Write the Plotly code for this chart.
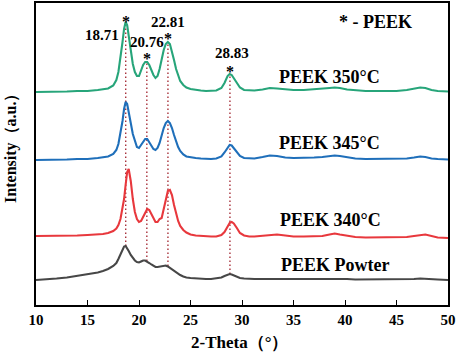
import plotly.graph_objects as go

# 2-theta grid (degrees)
two_theta = [10, 11, 12, 13, 14, 15, 16, 16.5, 17, 17.5,
             17.8, 18.0, 18.2, 18.4, 18.55, 18.7, 18.85, 19.0, 19.2, 19.4,
             19.6, 19.8, 20.0, 20.2, 20.4, 20.6, 20.8, 21.0, 21.2, 21.4,
             21.6, 21.8, 22.0, 22.2, 22.4, 22.6, 22.8, 23.0, 23.2, 23.4,
             23.6, 23.8, 24.0, 24.3, 24.6, 25, 25.5, 26, 26.5, 27,
             27.5, 28, 28.3, 28.6, 28.8, 29.0, 29.2, 29.5, 29.8, 30.2,
             30.7, 31.2, 32, 32.7, 33.4, 34.2, 35, 36, 37, 37.8,
             38.5, 39, 39.5, 40.2, 41, 42, 43, 44, 45, 46,
             46.7, 47.3, 47.8, 48.4, 49, 50]

# Intensities (a.u., stacked with offsets as drawn)
peek_350 = [213, 213, 213.5, 213.5, 214, 214, 215, 215.5, 216.5, 219.5,
            225, 233, 246, 263, 276, 283, 280, 270, 254, 241,
            233, 229, 229, 235, 240, 243, 243, 240, 235, 230,
            227, 229, 236, 246, 255, 261, 263, 261, 254, 245,
            236, 229, 224, 220, 217.5, 216, 215, 214.5, 214, 214,
            214.5, 217, 222, 229, 231, 230, 227, 222, 217.5, 215,
            214.5, 214.5, 215.5, 217, 216.5, 215.5, 215, 215, 215.5, 216,
            217, 217.5, 217, 215.5, 214.5, 214, 214, 214, 214, 215,
            216.5, 217.5, 217, 215, 214, 213.5]

peek_345 = [145, 145, 145.5, 145.5, 146, 146, 147, 147.5, 148.5, 151,
            155, 161, 171, 184, 196, 203, 201, 194, 182, 171,
            163, 158, 157, 160, 163, 166, 166, 163, 159, 156,
            155, 157, 162, 170, 177, 182, 184, 182, 177, 170,
            163, 158, 154, 150.5, 148.5, 147.5, 147, 146.5, 146, 146,
            146.5, 148.5, 152.5, 157, 160, 159.5, 157, 153, 149, 147,
            146.5, 146.5, 148, 149.5, 149, 147.5, 147, 147, 147.5, 148,
            149, 149.5, 149, 147.5, 146.5, 146, 146, 146, 146, 146.5,
            147.5, 148.5, 148, 146.5, 146, 145.5]

peek_340 = [69, 69, 69, 69.5, 69.5, 70, 70.5, 71, 72, 74,
            76.5, 80, 86, 96, 106, 120, 133, 136, 124, 106,
            93, 86, 83, 84, 88, 93, 96, 95, 91, 86,
            83, 83, 86, 87, 96, 106, 114, 115, 110, 100,
            91, 84, 79, 75, 72.5, 70.5, 69.5, 69, 68.5, 68.5,
            68.5, 70, 73, 78, 82, 83, 81.5, 77, 72, 69.5,
            68.5, 68.5, 69, 70, 70.5, 69.5, 68.5, 68.5, 68.5, 69,
            70.5, 71.5, 70.5, 69, 68, 67.5, 67.5, 67.5, 67.5, 68,
            69, 70, 70.5, 69, 67.5, 67]

peek_powder = [25, 25.5, 26.5, 27.5, 29, 30.5, 32.5, 34, 36, 39,
               42, 46, 51, 56, 58.5, 59, 57, 54, 50, 47,
               44.5, 43, 42.5, 43.5, 44.5, 44.5, 43.5, 42, 40.5, 39,
               38, 38, 38.5, 39, 39.5, 39.5, 38.5, 37, 35.5, 34,
               32.5, 31, 30, 28.5, 27.5, 27, 26.5, 26, 26, 26,
               26.5, 27.5, 29, 30.5, 31, 30.5, 29.5, 28, 27, 26.5,
               26, 26, 26, 26, 26.5, 26, 26, 26, 26, 26,
               26, 26.5, 26, 26, 25.5, 25.5, 25.5, 25.5, 25.5, 25.5,
               26, 26.5, 26, 25.5, 25.5, 25]

series_names = ["PEEK Powter", "PEEK 340°C", "PEEK 345°C", "PEEK 350°C"]
series_values = [peek_powder, peek_340, peek_345, peek_350]
series_colors = ["#474747", "#e8383d", "#1f6fba", "#27a57a"]
label_x = [39.0, 38.6, 38.5, 38.5]
label_y = [40, 85, 162, 228]

# PEEK reflections
peak_positions = [18.71, 20.76, 22.81, 28.83]
peak_labels = ["18.71", "20.76", "22.81", "28.83"]
peak_line_bottom = [59, 44, 39, 31]
peak_line_top = [283, 243, 263, 231]
star_y = [287, 250, 270, 237]
peak_label_x = [16.4, 20.8, 22.8, 29.0]
peak_label_y = [270, 263, 283, 252]

x_ticks = [10, 15, 20, 25, 30, 35, 40, 45, 50]

FONT = "Liberation Serif"

fig = go.Figure()

# dotted reference lines
for p, yb, yt in zip(peak_positions, peak_line_bottom, peak_line_top):
    fig.add_trace(go.Scatter(x=[p, p], y=[yb, yt], mode="lines",
                             line=dict(color="#a8323c", width=1.4, dash="1.5px,2.5px"),
                             showlegend=False, hoverinfo="skip"))

for name, vals, col in zip(series_names, series_values, series_colors):
    fig.add_trace(go.Scatter(x=two_theta, y=vals, mode="lines", name=name,
                             line=dict(color=col, width=2.1),
                             showlegend=False))

annotations = []
for name, lx, ly in zip(series_names, label_x, label_y):
    annotations.append(dict(x=lx, y=ly, text=name, showarrow=False,
                            font=dict(family=FONT, size=18, color="black", weight="bold"),
                            xanchor="center", yanchor="middle"))

for p, sy in zip(peak_positions, star_y):
    annotations.append(dict(x=p, y=sy, text="*", showarrow=False,
                            font=dict(family=FONT, size=16, color="black", weight="bold"),
                            xanchor="center", yanchor="middle", yshift=-3))

for t, lx, ly in zip(peak_labels, peak_label_x, peak_label_y):
    annotations.append(dict(x=lx, y=ly, text=t, showarrow=False,
                            font=dict(family=FONT, size=15, color="black", weight="bold"),
                            xanchor="center", yanchor="middle"))

annotations.append(dict(x=43.0, y=283, text="* - PEEK", showarrow=False,
                        font=dict(family=FONT, size=18, color="black", weight="bold"),
                        xanchor="center", yanchor="middle"))

annotations.append(dict(xref="paper", yref="paper", x=-0.061, y=0.533,
                        text="Intensity（a.u.）", textangle=-90, showarrow=False,
                        font=dict(family=FONT, size=16, color="black", weight="bold"),
                        xanchor="center", yanchor="middle"))

annotations.append(dict(xref="paper", yref="paper", x=0.495, y=-0.125,
                        text="2-Theta（°）", showarrow=False,
                        font=dict(family=FONT, size=17, color="black", weight="bold"),
                        xanchor="center", yanchor="middle"))

fig.update_layout(
    width=457, height=355,
    margin=dict(l=36, r=9, t=3, b=50, autoexpand=False),
    paper_bgcolor="white", plot_bgcolor="white",
    annotations=annotations,
    xaxis=dict(range=[10, 50], tickvals=x_ticks, ticktext=[str(v) for v in x_ticks],
               ticks="inside", ticklen=5, tickwidth=1.2, tickcolor="black",
               showline=True, linecolor="black", linewidth=1.5, mirror=True,
               showgrid=False, zeroline=False, automargin=False,
               tickfont=dict(family=FONT, size=15, color="black", weight="bold")),
    yaxis=dict(range=[0, 302], showticklabels=False, ticks="",
               showline=True, linecolor="black", linewidth=1.5, mirror=True,
               showgrid=False, zeroline=False, automargin=False),
)

fig.write_html("out.html", config={"displayModeBar": False},
               post_script="document.body.style.margin='0';document.body.style.padding='0';")
